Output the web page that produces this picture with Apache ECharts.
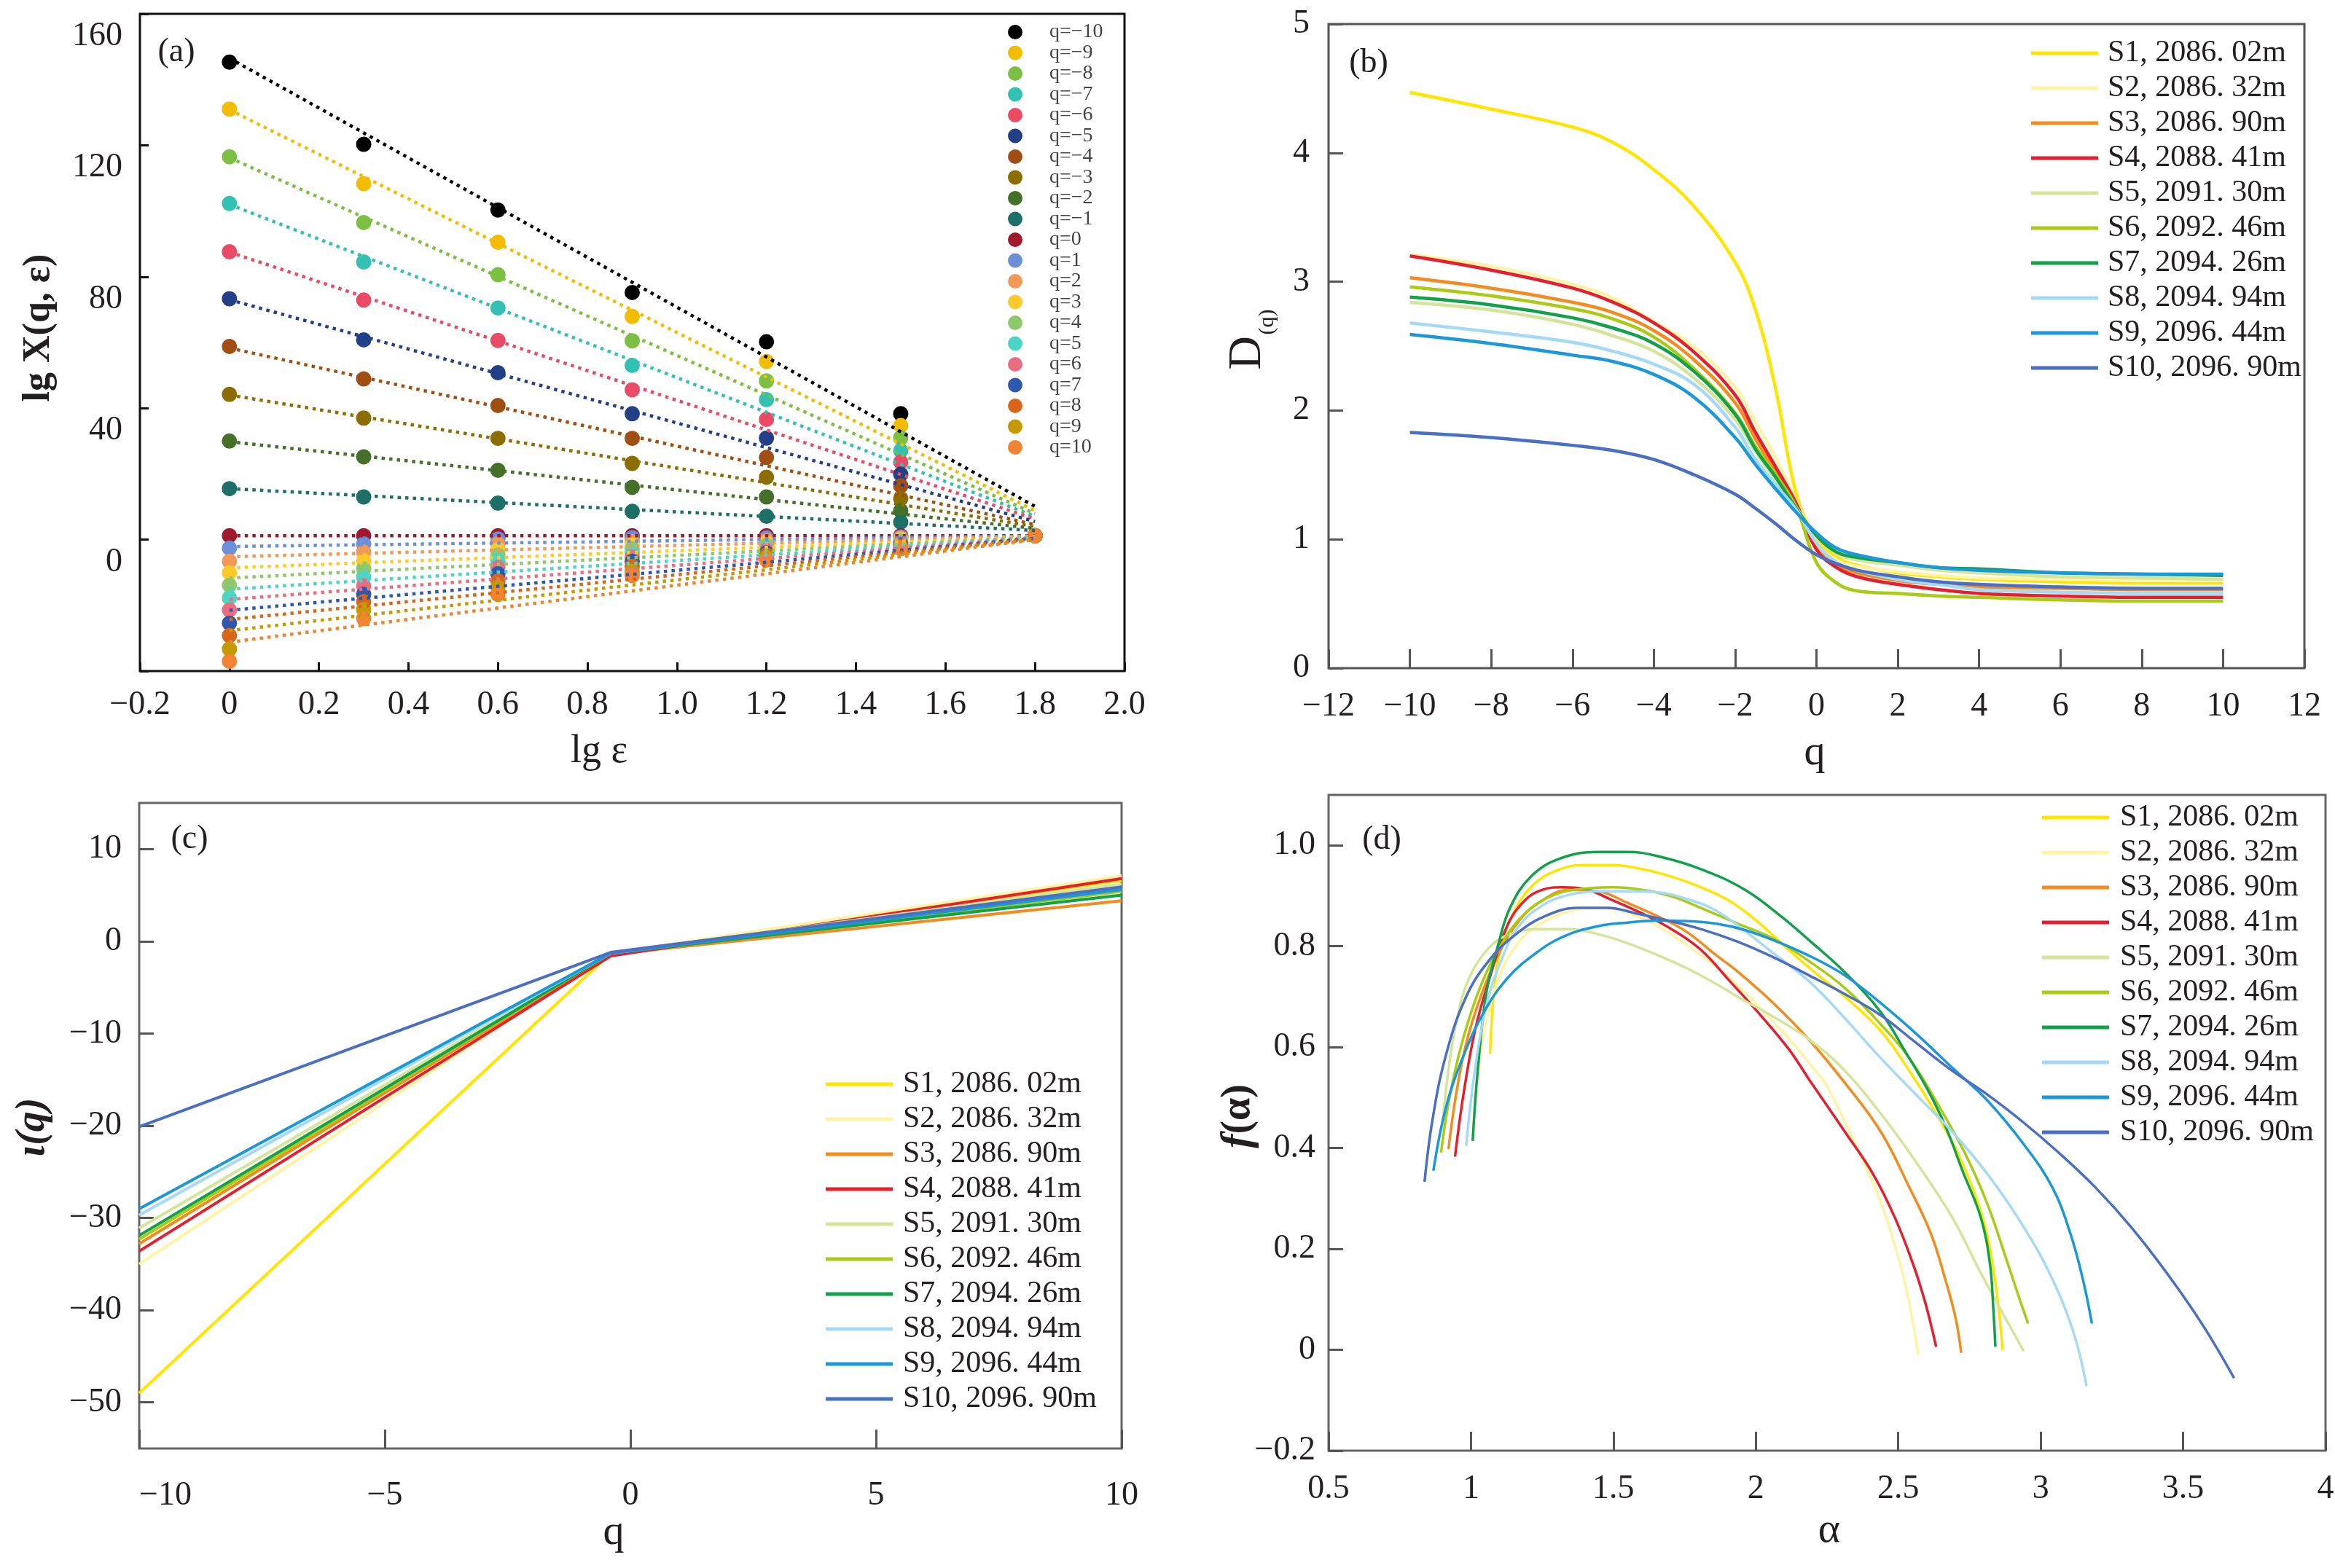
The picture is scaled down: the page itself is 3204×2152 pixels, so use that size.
<!DOCTYPE html>
<html>
<head>
<meta charset="utf-8">
<title>多重分形谱</title>
<script src="https://cdn.jsdelivr.net/npm/echarts@6/dist/echarts.min.js"></script>
<style>
    html, body { margin: 0; padding: 0; background: #fff; }
    #main { width: 3204px; height: 2152px; }
</style>
</head>
<body>
<div id="main"></div>
<script>
// ---------- (a) lg X(q, ε) ~ lg ε ----------
const lgEps = [0, 0.3, 0.6, 0.9, 1.2, 1.5, 1.8];
const qList = [-10, -9, -8, -7, -6, -5, -4, -3, -2, -1, 0, 1, 2, 3, 4, 5, 6, 7, 8, 9, 10];
const qColors = ['#000000', '#f2bc00', '#7bc043', '#33c1b4', '#e84b63', '#233f87', '#a04e13',
    '#8c6d00', '#45702a', '#1e7067', '#a0192d', '#6b8fd9', '#f09a5a', '#ffc92a', '#8dc86a',
    '#4cd4c4', '#ea6e82', '#2e58ae', '#d8661a', '#c49a00', '#f08433'];
// 每一列对应一个 lg ε，数组内按 q=-10 ... q=10 排列
const lgX_e00 = [145.3, 131.0, 116.5, 102.3, 87.6, 73.3, 58.8, 44.2, 30.0, 15.5, 1.2, -2.6, -6.6, -10.1, -13.9, -17.7, -21.4, -25.4, -29.2, -33.3, -37.0];
const lgX_e03 = [120.3, 108.3, 96.5, 84.5, 72.9, 60.8, 48.9, 37.0, 25.2, 13.0, 1.2, -1.3, -3.8, -6.4, -8.9, -11.4, -14.1, -16.6, -18.9, -21.3, -24.0];
const lgX_e06 = [100.3, 90.5, 80.6, 70.5, 60.6, 50.8, 40.8, 30.8, 21.1, 11.1, 1.2, 0.2, -1.3, -3.0, -4.7, -6.4, -8.5, -10.4, -12.6, -14.5, -16.7];
const lgX_e09 = [75.2, 67.9, 60.5, 53.0, 45.6, 38.3, 30.8, 23.2, 15.9, 8.6, 1.2, 0.6, -0.6, -1.7, -2.8, -4.1, -5.3, -6.6, -8.1, -9.6, -10.9];
const lgX_e12 = [60.2, 54.2, 48.3, 42.6, 36.6, 30.9, 25.0, 19.0, 13.0, 7.1, 1.2, 0.5, -0.3, -1.0, -1.8, -2.5, -3.2, -4.0, -4.7, -5.5, -6.2];
const lgX_e15 = [38.3, 34.7, 31.0, 27.1, 23.6, 19.9, 16.4, 12.5, 8.8, 5.3, 1.2, 0.8, 0.4, 0.0, -0.4, -0.8, -1.2, -1.6, -2.0, -2.4, -2.7];
const lgX_e18 = [1.2, 1.2, 1.2, 1.2, 1.2, 1.2, 1.2, 1.2, 1.2, 1.2, 1.2, 1.2, 1.2, 1.2, 1.2, 1.2, 1.2, 1.2, 1.2, 1.2, 1.2];
// 拟合直线在 lg ε = 0 和 lg ε = 1.8 处的值
const fitAtStart = [146.5, 130.8, 116.2, 102.0, 87.5, 73.0, 58.3, 44.0, 29.8, 15.5, 1.2, -2.1, -5.2, -8.6, -11.7, -15.1, -18.2, -21.5, -24.3, -27.7, -31.2];
const fitAtEnd = [10.1, 8.8, 7.9, 7.1, 6.3, 5.5, 4.6, 4.0, 3.4, 2.8, 1.2, 1.1, 1.0, 0.8, 0.7, 0.6, 0.5, 0.4, 0.2, 0.1, 0.0];

// ---------- 样品 ----------
const sampleNames = ['S1, 2086. 02m', 'S2, 2086. 32m', 'S3, 2086. 90m', 'S4, 2088. 41m', 'S5, 2091. 30m',
    'S6, 2092. 46m', 'S7, 2094. 26m', 'S8, 2094. 94m', 'S9, 2096. 44m', 'S10, 2096. 90m'];
const sampleColors = ['#ffe500', '#fff4a6', '#f28c1e', '#e5202e', '#d4e49b',
    '#a9cb16', '#13a04a', '#a6d9f5', '#1a98da', '#4b6fc2'];

// ---------- (b) D(q) ~ q ----------
const qB = [-10, -8, -6, -5, -4, -3, -2, -1.5, -1, -0.5, 0, 0.5, 1, 2, 3, 4, 6, 8, 10];
const dS1 = [4.47, 4.34, 4.20, 4.08, 3.87, 3.58, 3.15, 2.78, 2.16, 1.36, 1.00, 0.86, 0.80, 0.74, 0.71, 0.69, 0.67, 0.66, 0.66];
const dS2 = [3.21, 3.12, 2.98, 2.87, 2.69, 2.49, 2.18, 1.91, 1.63, 1.30, 0.97, 0.84, 0.79, 0.75, 0.72, 0.70, 0.69, 0.68, 0.68];
const dS3 = [3.03, 2.95, 2.84, 2.76, 2.62, 2.39, 2.06, 1.78, 1.52, 1.27, 0.93, 0.80, 0.74, 0.68, 0.65, 0.63, 0.62, 0.61, 0.61];
const dS4 = [3.20, 3.09, 2.95, 2.84, 2.68, 2.45, 2.12, 1.83, 1.56, 1.28, 0.92, 0.78, 0.71, 0.65, 0.61, 0.58, 0.56, 0.55, 0.55];
const dS5 = [2.84, 2.78, 2.67, 2.58, 2.46, 2.25, 1.93, 1.68, 1.46, 1.25, 1.02, 0.89, 0.84, 0.80, 0.76, 0.74, 0.71, 0.70, 0.69];
const dS6 = [2.96, 2.89, 2.79, 2.71, 2.57, 2.32, 1.98, 1.72, 1.50, 1.25, 0.82, 0.66, 0.60, 0.58, 0.56, 0.55, 0.53, 0.52, 0.52];
const dS7 = [2.88, 2.82, 2.72, 2.64, 2.52, 2.30, 1.97, 1.70, 1.48, 1.24, 1.03, 0.90, 0.86, 0.82, 0.78, 0.77, 0.74, 0.73, 0.72];
const dS8 = [2.68, 2.61, 2.53, 2.46, 2.36, 2.20, 1.87, 1.62, 1.42, 1.23, 0.97, 0.82, 0.76, 0.69, 0.65, 0.61, 0.59, 0.58, 0.58];
const dS9 = [2.59, 2.52, 2.43, 2.38, 2.28, 2.10, 1.79, 1.58, 1.39, 1.21, 1.05, 0.93, 0.88, 0.82, 0.78, 0.76, 0.74, 0.73, 0.73];
const dS10 = [1.83, 1.79, 1.73, 1.69, 1.62, 1.50, 1.35, 1.24, 1.12, 0.99, 0.88, 0.81, 0.76, 0.71, 0.67, 0.65, 0.63, 0.62, 0.62];

// ---------- (c) τ(q) ~ q ----------
const qC = [-10, -0.4, 10];
const tauS1 = [-49.0, -1.3, 6.6];
const tauS2 = [-35.0, -1.3, 7.1];
const tauS3 = [-32.8, -1.4, 4.4];
const tauS4 = [-33.6, -1.6, 6.8];
const tauS5 = [-31.1, -1.3, 6.2];
const tauS6 = [-32.3, -1.3, 5.4];
const tauS7 = [-31.9, -1.3, 5.0];
const tauS8 = [-29.7, -1.3, 5.8];
const tauS9 = [-29.0, -1.3, 5.6];
const tauS10 = [-20.1, -1.2, 5.9];

// ---------- (d) f(α) ~ α，[α, f(α)] ----------
const fS1 = [[1.067, 0.587], [1.081, 0.711], [1.107, 0.804], [1.148, 0.865], [1.21, 0.917], [1.292, 0.948], [1.395, 0.961], [1.498, 0.961], [1.601, 0.953], [1.704, 0.938], [1.807, 0.917], [1.91, 0.889], [2.014, 0.845], [2.117, 0.792], [2.22, 0.742], [2.313, 0.7], [2.439, 0.632], [2.539, 0.553], [2.627, 0.474], [2.715, 0.383], [2.79, 0.274], [2.828, 0.182], [2.853, 0.079], [2.866, 0.0]];
const fS2 = [[1.02, 0.53], [1.05, 0.64], [1.1, 0.74], [1.17, 0.81], [1.26, 0.85], [1.35, 0.87], [1.447, 0.876], [1.601, 0.855], [1.756, 0.803], [1.91, 0.736], [2.065, 0.648], [2.124, 0.612], [2.2, 0.56], [2.25, 0.522], [2.35, 0.407], [2.439, 0.292], [2.501, 0.182], [2.539, 0.091], [2.57, -0.009]];
const fS3 = [[0.921, 0.398], [0.947, 0.504], [0.983, 0.607], [1.034, 0.7], [1.096, 0.783], [1.168, 0.85], [1.251, 0.891], [1.344, 0.912], [1.447, 0.909], [1.55, 0.886], [1.653, 0.86], [1.756, 0.829], [1.859, 0.783], [1.936, 0.75], [2.062, 0.687], [2.188, 0.614], [2.313, 0.529], [2.439, 0.432], [2.539, 0.322], [2.614, 0.231], [2.665, 0.14], [2.702, 0.061], [2.721, -0.006]];
const fS4 = [[0.944, 0.383], [0.973, 0.504], [1.014, 0.633], [1.065, 0.736], [1.127, 0.84], [1.189, 0.891], [1.251, 0.912], [1.323, 0.917], [1.395, 0.914], [1.498, 0.891], [1.601, 0.865], [1.704, 0.834], [1.807, 0.793], [1.91, 0.73], [2.014, 0.665], [2.117, 0.595], [2.188, 0.535], [2.313, 0.432], [2.413, 0.347], [2.489, 0.261], [2.552, 0.17], [2.596, 0.091], [2.633, 0.006]];
const fS5 = [[0.898, 0.434], [0.921, 0.556], [0.952, 0.659], [0.993, 0.736], [1.065, 0.798], [1.137, 0.824], [1.241, 0.834], [1.344, 0.834], [1.447, 0.824], [1.55, 0.806], [1.653, 0.783], [1.756, 0.757], [1.859, 0.726], [1.936, 0.7], [2.062, 0.66], [2.188, 0.615], [2.313, 0.553], [2.439, 0.468], [2.564, 0.371], [2.69, 0.262], [2.79, 0.152], [2.878, 0.061], [2.941, -0.003]];
const fS6 = [[0.895, 0.391], [0.926, 0.504], [0.973, 0.618], [1.034, 0.721], [1.107, 0.804], [1.189, 0.865], [1.292, 0.902], [1.395, 0.914], [1.498, 0.917], [1.601, 0.912], [1.704, 0.899], [1.807, 0.876], [1.936, 0.845], [2.062, 0.815], [2.188, 0.77], [2.313, 0.717], [2.439, 0.645], [2.539, 0.578], [2.639, 0.487], [2.74, 0.383], [2.815, 0.286], [2.878, 0.182], [2.928, 0.097], [2.956, 0.052]];
const fS7 = [[1.006, 0.414], [1.024, 0.556], [1.055, 0.711], [1.096, 0.804], [1.137, 0.876], [1.21, 0.938], [1.313, 0.974], [1.447, 0.987], [1.55, 0.987], [1.653, 0.979], [1.807, 0.953], [1.962, 0.912], [2.087, 0.86], [2.187, 0.812], [2.313, 0.748], [2.439, 0.669], [2.526, 0.59], [2.602, 0.517], [2.665, 0.444], [2.727, 0.353], [2.79, 0.262], [2.822, 0.17], [2.834, 0.079], [2.841, 0.006]];
const fS8 = [[0.983, 0.404], [1.014, 0.556], [1.055, 0.685], [1.107, 0.773], [1.168, 0.84], [1.251, 0.881], [1.344, 0.902], [1.447, 0.909], [1.55, 0.909], [1.653, 0.907], [1.756, 0.894], [1.859, 0.871], [1.962, 0.83], [2.062, 0.786], [2.188, 0.73], [2.313, 0.657], [2.439, 0.578], [2.564, 0.505], [2.69, 0.432], [2.815, 0.347], [2.941, 0.243], [3.041, 0.14], [3.117, 0.031], [3.161, -0.072]];
const fS9 = [[0.868, 0.355], [0.911, 0.478], [0.973, 0.582], [1.045, 0.669], [1.127, 0.736], [1.22, 0.783], [1.323, 0.819], [1.447, 0.84], [1.55, 0.847], [1.653, 0.851], [1.756, 0.85], [1.859, 0.845], [1.962, 0.832], [2.062, 0.812], [2.188, 0.781], [2.313, 0.742], [2.439, 0.687], [2.564, 0.626], [2.69, 0.559], [2.815, 0.493], [2.941, 0.407], [3.041, 0.322], [3.104, 0.231], [3.148, 0.14], [3.18, 0.052]];
const fS10 = [[0.837, 0.333], [0.864, 0.453], [0.911, 0.582], [0.983, 0.7], [1.065, 0.773], [1.158, 0.824], [1.261, 0.86], [1.375, 0.876], [1.478, 0.876], [1.581, 0.865], [1.684, 0.852], [1.807, 0.834], [1.936, 0.809], [2.062, 0.778], [2.188, 0.742], [2.313, 0.705], [2.439, 0.663], [2.564, 0.608], [2.69, 0.553], [2.815, 0.505], [2.941, 0.45], [3.067, 0.389], [3.192, 0.322], [3.318, 0.243], [3.443, 0.152], [3.569, 0.049], [3.679, -0.056]];

const SERIF = '"Liberation Serif", "Times New Roman", serif';
const INK = '#231f20';

// 数字标签：负号用 −，0 不带小数
function fmtNum(v, digits) {
    if (Math.abs(v) < 1e-9) return '0';
    const s = digits == null ? String(+Math.abs(v).toFixed(6)) : Math.abs(v).toFixed(digits);
    return (v < 0 ? '\u2212' : '') + s;
}

function axisBase(gridIndex, color, tickLen, margin) {
    return {
        type: 'value',
        gridIndex: gridIndex,
        axisLine: { show: false, onZero: false },
        splitLine: { show: false },
        axisTick: {
            show: true,
            inside: true,
            length: tickLen,
            lineStyle: { color: color, width: 3 }
        },
        axisLabel: {
            color: INK,
            fontFamily: SERIF,
            fontSize: 46,
            margin: margin
        }
    };
}

const chart = echarts.init(document.getElementById('main'), null, { renderer: 'canvas' });

// x 轴
const xA = axisBase(0, '#111', 12, 24);
xA.min = -0.2; xA.max = 2.0; xA.interval = 0.2;
xA.axisLabel.formatter = v => fmtNum(v, 1);

const xB = axisBase(1, '#555', 26, 30);
xB.min = -12; xB.max = 12; xB.interval = 2;
xB.axisLabel.formatter = v => fmtNum(v);

const xC = axisBase(2, '#555', 26, 42);
xC.min = -10; xC.max = 10; xC.interval = 5;
xC.axisLabel.formatter = v => fmtNum(v);
xC.axisLabel.alignMinLabel = 'left';

const xD = axisBase(3, '#555', 26, 30);
xD.min = 0.5; xD.max = 4; xD.interval = 0.5;
xD.axisLabel.formatter = v => fmtNum(v);

// y 轴
const yA = axisBase(0, '#111', 12, 24);
yA.min = -40; yA.max = 160; yA.interval = 40;
yA.axisLabel.formatter = v => (v === -40 ? '' : fmtNum(v));
yA.axisLabel.verticalAlign = 'top';   // 原图标签略低于刻度
yA.axisLabel.lineHeight = 62;

const yB = axisBase(1, '#555', 20, 26);
yB.min = 0; yB.max = 5; yB.interval = 1;
yB.axisLabel.formatter = v => fmtNum(v);

const tauTicks = [-50, -40, -30, -20, -10, 0, 10];
const yC = axisBase(2, '#555', 20, 24);
yC.min = -55; yC.max = 15;
yC.axisLabel.customValues = tauTicks;
yC.axisTick.customValues = tauTicks;
yC.axisLabel.formatter = v => fmtNum(v);

const fTicks = [-0.2, 0, 0.2, 0.4, 0.6, 0.8, 1.0];
const yD = axisBase(3, '#555', 20, 18);
yD.min = -0.2; yD.max = 1.1;
yD.axisLabel.customValues = fTicks;
yD.axisTick.customValues = fTicks;
yD.axisLabel.formatter = v => fmtNum(v, 1);

// 系列
const series = [];
const lgXCols = [lgX_e00, lgX_e03, lgX_e06, lgX_e09, lgX_e12, lgX_e15, lgX_e18];
const qNames = qList.map(q => 'q=' + fmtNum(q));

qList.forEach((q, i) => {
    series.push({
        name: qNames[i],
        type: 'scatter',
        xAxisIndex: 0,
        yAxisIndex: 0,
        symbol: 'circle',
        symbolSize: 21,
        z: 2,
        itemStyle: { color: qColors[i], opacity: 1 },
        data: lgEps.map((e, j) => [e, lgXCols[j][i]])
    });
});
qList.forEach((q, i) => {
    series.push({
        type: 'line',
        xAxisIndex: 0,
        yAxisIndex: 0,
        symbol: 'none',
        showSymbol: false,
        z: 3,
        silent: true,
        lineStyle: { color: qColors[i], width: 4.5, type: [4.5, 6], cap: 'butt' },
        data: [[lgEps[0], fitAtStart[i]], [lgEps[lgEps.length - 1], fitAtEnd[i]]]
    });
});

const dAll = [dS1, dS2, dS3, dS4, dS5, dS6, dS7, dS8, dS9, dS10];
const tauAll = [tauS1, tauS2, tauS3, tauS4, tauS5, tauS6, tauS7, tauS8, tauS9, tauS10];
const fAll = [fS1, fS2, fS3, fS4, fS5, fS6, fS7, fS8, fS9, fS10];

sampleNames.forEach((name, i) => {
    series.push({
        name: name,
        type: 'line',
        xAxisIndex: 1,
        yAxisIndex: 1,
        smooth: 0.4,
        symbol: 'none',
        showSymbol: false,
        itemStyle: { color: sampleColors[i] },
        lineStyle: { color: sampleColors[i], width: 4.5 },
        data: qB.map((q, j) => [q, dAll[i][j]])
    });
});
sampleNames.forEach((name, i) => {
    series.push({
        name: name,
        type: 'line',
        xAxisIndex: 2,
        yAxisIndex: 2,
        symbol: 'none',
        showSymbol: false,
        itemStyle: { color: sampleColors[i] },
        lineStyle: { color: sampleColors[i], width: 4 },
        data: qC.map((q, j) => [q, tauAll[i][j]])
    });
});
sampleNames.forEach((name, i) => {
    series.push({
        name: name,
        type: 'line',
        xAxisIndex: 3,
        yAxisIndex: 3,
        smooth: 0.4,
        symbol: 'none',
        showSymbol: false,
        itemStyle: { color: sampleColors[i] },
        lineStyle: { color: sampleColors[i], width: 3.5 },
        data: fAll[i]
    });
});

function sampleLegend(left, top, gap) {
    return {
        data: sampleNames,
        orient: 'vertical',
        left: left,
        top: top,
        itemWidth: 92,
        itemHeight: 14,
        itemGap: 6,
        icon: 'path://M0,0 L92,0 L92,5 L0,5 Z',
        selectedMode: false,
        textStyle: {
            color: INK,
            fontFamily: SERIF,
            fontSize: 42,
            lineHeight: 42,
            padding: [0, 0, 0, gap]
        }
    };
}

function txt(x, y, text, font, rot) {
    return {
        type: 'text',
        x: x,
        y: y,
        rotation: rot || 0,
        silent: true,
        style: {
            text: text,
            font: font,
            fill: INK,
            align: 'center',
            verticalAlign: 'middle',
            textAlign: 'center',
            textVerticalAlign: 'middle'
        }
    };
}

const option = {
    animation: false,
    backgroundColor: '#ffffff',
    grid: [
        { left: 192, top: 19, width: 1351, height: 902, show: true, borderColor: '#111', borderWidth: 3, outerBoundsMode: 'none' },
        { left: 1823, top: 33, width: 1339, height: 884, show: true, borderColor: '#555', borderWidth: 3, outerBoundsMode: 'none' },
        { left: 191, top: 1102, width: 1348, height: 886, show: true, borderColor: '#666', borderWidth: 3, outerBoundsMode: 'none' },
        { left: 1823, top: 1091, width: 1368, height: 900, show: true, borderColor: '#666', borderWidth: 3, outerBoundsMode: 'none' }
    ],
    xAxis: [xA, xB, xC, xD],
    yAxis: [yA, yB, yC, yD],
    legend: [
        {
            data: qNames,
            orient: 'vertical',
            left: 1378,
            top: 25,
            itemWidth: 20,
            itemHeight: 20,
            itemGap: 0.5,
            icon: 'circle',
            selectedMode: false,
            textStyle: {
                color: '#444',
                fontFamily: SERIF,
                fontSize: 28,
                lineHeight: 20,
                padding: [0, 0, 0, 32]
            }
        },
        sampleLegend(2782, 47, 8),
        sampleLegend(1128, 1462, 9),
        sampleLegend(2797, 1096, 10)
    ],
    graphic: [
        txt(242, 72, '(a)', '46px ' + SERIF),
        txt(1878, 87, '(b)', '46px ' + SERIF),
        txt(260, 1152, '(c)', '46px ' + SERIF),
        txt(1896, 1153, '(d)', '46px ' + SERIF),
        txt(54, 450, 'lg X(q, ε)', 'bold 52px ' + SERIF, Math.PI / 2),
        txt(822, 1032, 'lg ε', '54px ' + SERIF),
        {
            type: 'text',
            x: 1712,
            y: 466,
            rotation: Math.PI / 2,
            silent: true,
            style: {
                text: '{d|D}{s|(q)}',
                fill: INK,
                align: 'center',
                verticalAlign: 'middle',
                textAlign: 'center',
                textVerticalAlign: 'middle',
                rich: {
                    d: { font: '64px ' + SERIF, fill: INK, verticalAlign: 'bottom' },
                    s: { font: '30px ' + SERIF, fill: INK, verticalAlign: 'bottom', padding: [0, 0, -10, 2] }
                }
            }
        },
        txt(2490, 1034, 'q', '58px ' + SERIF),
        txt(46, 1547, 'ι(q)', 'italic bold 56px ' + SERIF, Math.PI / 2),
        txt(842, 2104, 'q', '58px ' + SERIF),
        {
            type: 'text',
            x: 1700,
            y: 1532,
            rotation: Math.PI / 2,
            silent: true,
            style: {
                text: '{f|f}{b|(α)}',
                fill: INK,
                align: 'center',
                verticalAlign: 'middle',
                textAlign: 'center',
                textVerticalAlign: 'middle',
                rich: {
                    f: { font: 'italic bold 58px ' + SERIF, fill: INK },
                    b: { font: 'bold 56px ' + SERIF, fill: INK }
                }
            }
        },
        txt(2510, 2101, 'α', '58px ' + SERIF)
    ],
    series: series
};

chart.setOption(option);
</script>
</body>
</html>
